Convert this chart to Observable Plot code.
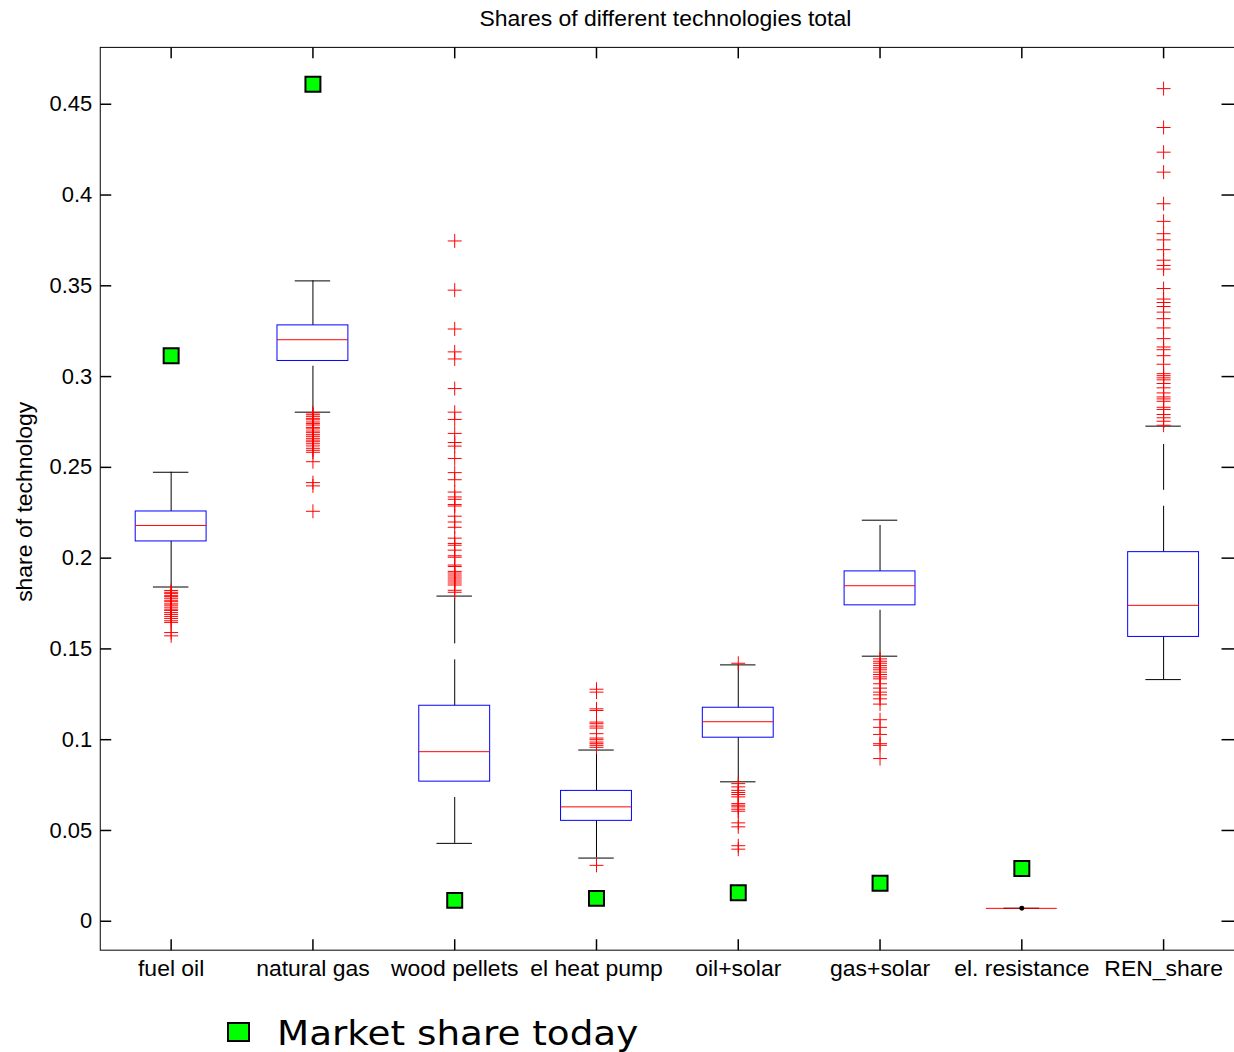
<!DOCTYPE html>
<html>
<head>
<meta charset="utf-8">
<script src="https://cdn.jsdelivr.net/npm/d3@7"></script>
<script src="https://cdn.jsdelivr.net/npm/@observablehq/plot@0.6"></script>
<style>
  html, body { margin: 0; padding: 0; background: #fff; overflow: hidden; }
  #wrap { position: relative; width: 1234px; height: 1052px; overflow: hidden; }
  #chart { position: absolute; left: 0; top: 0; }
  #legend { position: absolute; left: 0; top: 1000px; }
</style>
</head>
<body>
<div id="wrap"><div id="chart"></div><svg id="legend" width="1234" height="52"></svg></div>
<script>
// ---------- data ----------
const title = "Shares of different technologies total";
const yLabel = "share of technology";
const legendLabel = "Market share today";

const categories = ["fuel oil", "natural gas", "wood pellets", "el heat pump", "oil+solar", "gas+solar", "el. resistance", "REN_share"];

const yTicks = [0, 0.05, 0.1, 0.15, 0.2, 0.25, 0.3, 0.35, 0.4, 0.45];
const yTickLabels = ["0", "0.05", "0.1", "0.15", "0.2", "0.25", "0.3", "0.35", "0.4", "0.45"];

const whiskerLow  = [0.1841, 0.2804, 0.0429, 0.0348, 0.0768, 0.1460, 0.0071, 0.1331];
const q1          = [0.2092, 0.3086, 0.0769, 0.0553, 0.1011, 0.1740, 0.0071, 0.1566];
const median      = [0.2180, 0.3203, 0.0934, 0.0630, 0.1099, 0.1848, 0.0071, 0.1740];
const q3          = [0.2257, 0.3282, 0.1187, 0.0718, 0.1176, 0.1927, 0.0071, 0.2033];
const whiskerHigh = [0.2473, 0.3527, 0.1791, 0.0943, 0.1412, 0.2209, 0.0071, 0.2727];

const marketShare = [0.3115, 0.4610, 0.0115, 0.0126, 0.0157, 0.0209, 0.0291, null];

const outliers = [
  // fuel oil
  [0.1822, 0.1812, 0.1806, 0.1795, 0.1788, 0.1779, 0.1768, 0.1760, 0.1748, 0.1741, 0.1730, 0.1719, 0.1712, 0.1700, 0.1690, 0.1679, 0.1668, 0.1655, 0.1646, 0.1590, 0.1572],
  // natural gas
  [0.2800, 0.2790, 0.2781, 0.2770, 0.2762, 0.2750, 0.2741, 0.2733, 0.2720, 0.2712, 0.2700, 0.2691, 0.2680, 0.2671, 0.2660, 0.2650, 0.2641, 0.2630, 0.2618, 0.2605, 0.2594, 0.2583, 0.2531, 0.2416, 0.2398, 0.2258],
  // wood pellets
  [0.3747, 0.3476, 0.3262, 0.3136, 0.3097, 0.2934, 0.2804, 0.2764, 0.2687, 0.2637, 0.2617, 0.2549, 0.2471, 0.2432, 0.2364, 0.2337, 0.2324, 0.2295, 0.2287, 0.2231, 0.2199, 0.2170, 0.2110, 0.2081, 0.2071, 0.2044, 0.2013, 0.2005, 0.1962, 0.1954, 0.1927, 0.1918, 0.1907, 0.1896, 0.1885, 0.1874, 0.1863, 0.1852, 0.1823, 0.1812],
  // el heat pump
  [0.1278, 0.1262, 0.1170, 0.1161, 0.1097, 0.1088, 0.1075, 0.1064, 0.1033, 0.1009, 0.1000, 0.0987, 0.0978, 0.0969, 0.0958, 0.0308],
  // oil+solar
  [0.1421, 0.0758, 0.0740, 0.0721, 0.0709, 0.0698, 0.0685, 0.0648, 0.0639, 0.0630, 0.0617, 0.0606, 0.0542, 0.0520, 0.0416, 0.0397],
  // gas+solar
  [0.1445, 0.1432, 0.1421, 0.1408, 0.1396, 0.1385, 0.1372, 0.1359, 0.1346, 0.1335, 0.1308, 0.1284, 0.1262, 0.1247, 0.1225, 0.1196, 0.1110, 0.1068, 0.1029, 0.0978, 0.0969, 0.0896],
  // el. resistance
  [],
  // REN_share
  [0.4586, 0.4372, 0.4236, 0.4126, 0.3952, 0.3855, 0.3787, 0.3753, 0.3699, 0.3641, 0.3612, 0.3592, 0.3485, 0.3427, 0.3408, 0.3386, 0.3355, 0.3319, 0.3268, 0.3209, 0.3163, 0.3148, 0.3115, 0.3068, 0.3016, 0.3005, 0.2993, 0.2982, 0.2962, 0.2938, 0.2910, 0.2888, 0.2877, 0.2864, 0.2831, 0.2819, 0.2791, 0.2773, 0.2754, 0.2732]
];

// collapsed-box marker (el. resistance)
const pointMarkers = [{cat: 7, v: 0.0071}];

// ---------- derived tables ----------
const xPos = categories.map((c, i) => i + 1);
const boxHalf = 0.25, capHalf = 0.125;
const boxes = categories.map((c, i) => ({
  x: i + 1, wlo: whiskerLow[i], q1: q1[i], med: median[i], q3: q3[i], whi: whiskerHigh[i]
}));
const outlierRows = outliers.flatMap((arr, i) => arr.map(v => ({x: i + 1, v})));
const marketRows = marketShare.map((v, i) => ({x: i + 1, v})).filter(d => d.v != null);

// symbols
const plusSym = {draw(c) { c.moveTo(-7, 0); c.lineTo(7, 0); c.moveTo(0, -7); c.lineTo(0, 7); }};
const squareSym = {draw(c) { c.rect(-7.5, -7.5, 15, 15); }};
const tickR = {draw(c) { c.moveTo(0, 0); c.lineTo(11, 0); }};
const tickL = {draw(c) { c.moveTo(0, 0); c.lineTo(-13, 0); }};
const tickD = {draw(c) { c.moveTo(0, 0); c.lineTo(0, 11); }};
const tickU = {draw(c) { c.moveTo(0, 0); c.lineTo(0, -11); }};

const FONT = "'Liberation Sans', Arial, Helvetica, sans-serif";

const chart = Plot.plot({
  width: 1237,
  height: 1000,
  marginLeft: 100,
  marginRight: 0,
  marginTop: 47,
  marginBottom: 48,
  style: {fontFamily: FONT, fontSize: "22px", background: "#fff", color: "#000"},
  x: {domain: [0.5, 8.5], axis: null},
  y: {domain: [-0.015934, 0.481319], axis: null},
  marks: [
    Plot.frame({stroke: "#000"}),
    Plot.axisY(yTicks, {anchor: "left", tickSize: 0, tickPadding: 8, fontSize: 22,
      tickFormat: d => yTickLabels[yTicks.indexOf(d)], label: null}),
    Plot.axisX(xPos, {anchor: "bottom", tickSize: 0, tickPadding: 10, fontSize: 23,
      tickFormat: d => categories[d - 1], label: null}),
    // inward ticks
    Plot.dot(yTicks, {y: d => d, frameAnchor: "left", symbol: tickR, stroke: "#000", fill: "none"}),
    Plot.dot(yTicks, {y: d => d, frameAnchor: "right", symbol: tickL, stroke: "#000", fill: "none"}),
    Plot.dot(xPos, {x: d => d, frameAnchor: "top", symbol: tickD, stroke: "#000", fill: "none"}),
    Plot.dot(xPos, {x: d => d, frameAnchor: "bottom", symbol: tickU, stroke: "#000", fill: "none"}),
    // whiskers (dashed)
    Plot.ruleX(boxes, {x: "x", y1: "wlo", y2: "q1", stroke: "#000", strokeDasharray: "46,16"}),
    Plot.ruleX(boxes, {x: "x", y1: "q3", y2: "whi", stroke: "#000", strokeDasharray: "46,16"}),
    // whisker caps
    Plot.ruleY(boxes, {y: "wlo", x1: d => d.x - capHalf, x2: d => d.x + capHalf, stroke: "#000"}),
    Plot.ruleY(boxes, {y: "whi", x1: d => d.x - capHalf, x2: d => d.x + capHalf, stroke: "#000"}),
    // boxes
    Plot.rect(boxes, {x1: d => d.x - boxHalf, x2: d => d.x + boxHalf, y1: "q1", y2: "q3", fill: "none", stroke: "#0000ff"}),
    // medians
    Plot.ruleY(boxes, {y: "med", x1: d => d.x - boxHalf, x2: d => d.x + boxHalf, stroke: "#ff0000"}),
    // outliers
    Plot.dot(outlierRows, {x: "x", y: "v", symbol: plusSym, stroke: "#ff0000", fill: "none", strokeWidth: 1}),
    // collapsed box marker
    Plot.dot(pointMarkers, {x: "cat", y: "v", r: 2.5, fill: "#000", stroke: "none"}),
    // market share today
    Plot.dot(marketRows, {x: "x", y: "v", symbol: squareSym, fill: "#00ff00", stroke: "#000", strokeWidth: 2}),
    // title & y label
    Plot.text([title], {frameAnchor: "top", lineAnchor: "middle", textAnchor: "middle", dx: -2, dy: -29, fontSize: 23, fill: "#000"}),
    Plot.text([yLabel], {frameAnchor: "left", lineAnchor: "middle", textAnchor: "middle", dx: -76, dy: 3, rotate: -90, fontSize: 23, fill: "#000"})
  ]
});
document.getElementById("chart").appendChild(chart);

// legend
const leg = d3.select("#legend");
leg.append("rect").attr("x", 228).attr("y", 23).attr("width", 21).attr("height", 18)
  .attr("fill", "#00ff00").attr("stroke", "#000").attr("stroke-width", 2);
leg.append("text").attr("x", 277).attr("y", 45)
  .attr("font-family", "'DejaVu Sans', Verdana, sans-serif").attr("font-size", 33)
  .attr("transform", "translate(277,0) scale(1.13,1) translate(-277,0)")
  .attr("fill", "#000").text(legendLabel);
</script>
</body>
</html>
